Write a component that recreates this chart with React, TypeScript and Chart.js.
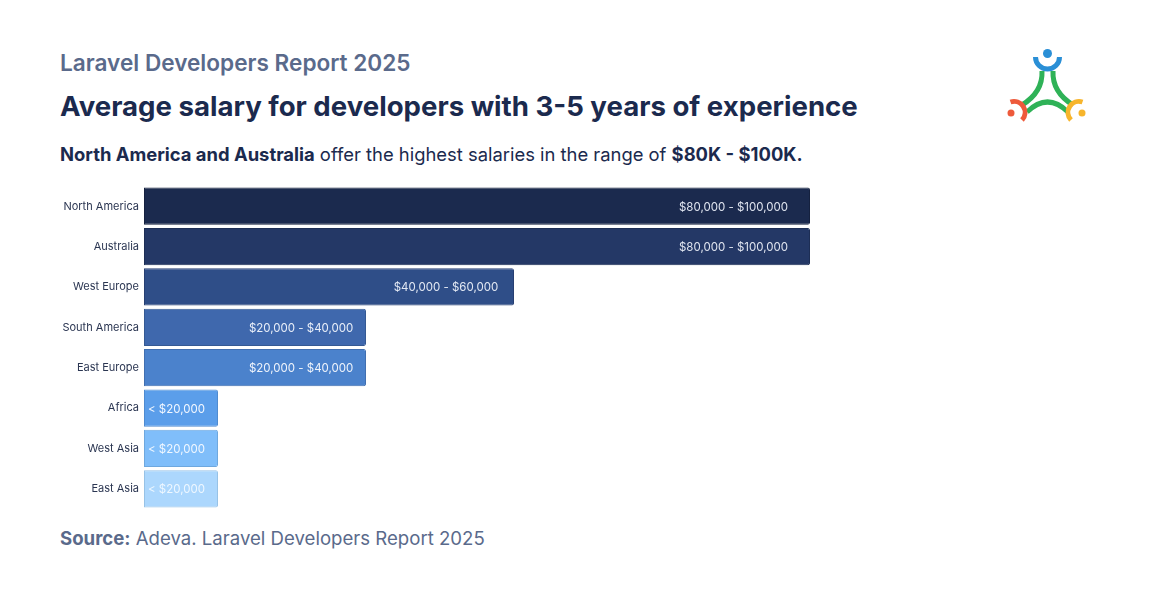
import React, { useEffect, useRef } from "react";
import { Chart, registerables } from "chart.js";

Chart.register(...registerables);

const regions = ["North America", "Australia", "West Europe", "South America", "East Europe", "Africa", "West Asia", "East Asia"];
const salaryMid = [90, 90, 50, 30, 30, 10, 10, 10];
const rangeLabels = ["$80,000 - $100,000", "$80,000 - $100,000", "$40,000 - $60,000", "$20,000 - $40,000", "$20,000 - $40,000", "< $20,000", "< $20,000", "< $20,000"];
const barColors = ["#1b2a4e", "#243866", "#2f4e88", "#3f68ad", "#4b82cc", "#5b9eea", "#80befa", "#acd7fd"];
const barBorders = ["#15213f", "#1d2e55", "#273f72", "#355993", "#416fb0", "#4f8bd0", "#6fa8de", "#97c2e6"];
const labelColors = ["#dfe4ef", "#dfe4ef", "#e2e8f3", "#e8eef8", "#eef3fb", "#f2f7ff", "#f0f7ff", "#eef7ff"];

const FONT = "Inter, Lato, sans-serif";

const barLabels = {
  id: "barLabels",
  afterDatasetsDraw(chart: any) {
    const ctx = chart.ctx;
    const meta = chart.getDatasetMeta(0);
    ctx.save();
    ctx.font = `11.5px ${FONT}`;
    ctx.textBaseline = "middle";
    meta.data.forEach((bar: any, i: number) => {
      const txt = rangeLabels[i];
      ctx.fillStyle = labelColors[i];
      if (salaryMid[i] > 15) {
        const w = bar.x - bar.base;
        ctx.textAlign = "right";
        ctx.fillText(txt, bar.x - (8 + 0.021 * w), bar.y + 1);
      } else {
        ctx.textAlign = "left";
        ctx.fillText(txt, bar.base + 4, bar.y + 1);
      }
    });
    ctx.restore();
  },
};

function Logo() {
  return (
    <svg width="1152" height="601" style={{ position: "absolute", left: 0, top: 0, pointerEvents: "none" }}>
      <circle cx={1047.5} cy={53.5} r={4.5} fill="#2a8fd6" />
      <path d="M1035.5 57 A12 12 0 0 0 1059.5 57" fill="none" stroke="#2a8fd6" strokeWidth={5} />
      <path d="M1042 71 Q1043 92 1022 105" fill="none" stroke="#2fb257" strokeWidth={5} />
      <path d="M1053 71 Q1052 92 1073 105" fill="none" stroke="#2fb257" strokeWidth={5} />
      <path d="M1027 112 Q1047.5 92 1068 112" fill="none" stroke="#2fb257" strokeWidth={5} />
      <circle cx={1011} cy={113} r={3.5} fill="#ee5a3b" />
      <path d="M1010.5 102 A11 11 0 0 1 1022 120" fill="none" stroke="#ee5a3b" strokeWidth={5} />
      <circle cx={1082} cy={113} r={3.5} fill="#f7b52c" />
      <path d="M1082.5 102 A11 11 0 0 0 1071 120" fill="none" stroke="#f7b52c" strokeWidth={5} />
    </svg>
  );
}

export default function App() {
  const ref = useRef<HTMLCanvasElement>(null);
  useEffect(() => {
    document.body.style.margin = "0";
    document.body.style.background = "#ffffff";
    if (!ref.current) return;
    const chart = new Chart(ref.current, {
      type: "bar",
      data: {
        labels: regions,
        datasets: [
          {
            data: salaryMid,
            backgroundColor: barColors,
            borderColor: barBorders,
            borderWidth: 1,
            borderRadius: { topLeft: 0, bottomLeft: 0, topRight: 2, bottomRight: 2 },
            borderSkipped: false,
            barPercentage: 0.92,
            categoryPercentage: 1,
          },
        ],
      },
      options: {
        indexAxis: "y",
        animation: false,
        responsive: false,
        maintainAspectRatio: false,
        layout: { padding: { top: 6, bottom: 6, left: 0, right: 120 } },
        plugins: { legend: { display: false }, tooltip: { enabled: false } },
        scales: {
          x: { display: false, min: 0, max: 120 },
          y: {
            grid: { display: false, drawTicks: false },
            border: { display: false },
            ticks: { color: "#2b3652", font: { family: FONT, size: 11 }, padding: 5 },
            afterFit: (s: any) => {
              s.width = 144;
              s.paddingTop = 0;
              s.paddingBottom = 0;
            },
          },
        },
      },
      plugins: [barLabels],
    });
    return () => chart.destroy();
  }, []);

  return (
    <div style={{ position: "fixed", left: 0, top: 0, width: 1152, height: 601, background: "#ffffff", fontFamily: FONT, overflow: "hidden" }}>
      <div style={{ position: "absolute", left: 60, top: 52, fontSize: 22.6, fontWeight: 600, color: "#5a6a8b", lineHeight: 1, whiteSpace: "nowrap" }}>
        Laravel Developers Report 2025
      </div>
      <div style={{ position: "absolute", left: 60, top: 93, fontSize: 27.6, fontWeight: 700, color: "#1b2a4e", lineHeight: 1, whiteSpace: "nowrap" }}>
        Average salary for developers with 3-5 years of experience
      </div>
      <div style={{ position: "absolute", left: 60, top: 145, fontSize: 18.4, color: "#1b2a4e", lineHeight: 1, whiteSpace: "nowrap" }}>
        <b>North America and Australia</b> offer the highest salaries in the range of <b>$80K - $100K.</b>
      </div>
      <canvas ref={ref} width={1152} height={335} style={{ position: "absolute", left: 0, top: 180 }} />
      <div style={{ position: "absolute", left: 60, top: 529, fontSize: 18.6, color: "#5a6a8b", lineHeight: 1, whiteSpace: "nowrap" }}>
        <b>Source:</b> Adeva. Laravel Developers Report 2025
      </div>
      <Logo />
    </div>
  );
}
